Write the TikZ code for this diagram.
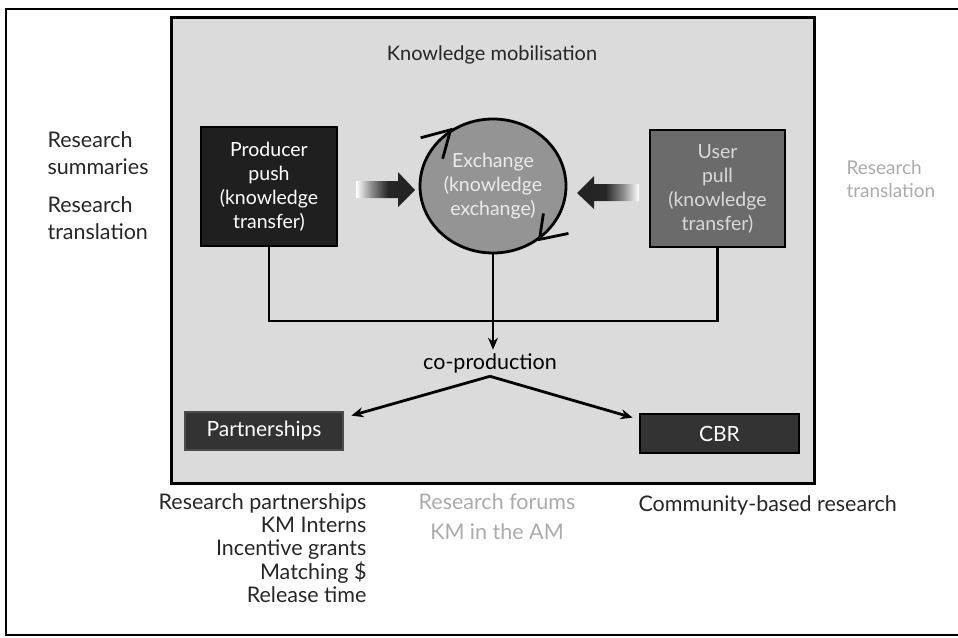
\documentclass[tikz,border=0pt]{standalone}
\usepackage{fontspec}
\setmainfont{Lato}
\usetikzlibrary{arrows.meta,shapes.geometric}
\newcommand{\fsz}[2]{\fontsize{#1}{#2}\selectfont}
\pgfdeclarehorizontalshading{fadetodark}{100bp}{color(0bp)=(white); color(25bp)=(white); color(38bp)=(black!45); color(52bp)=(black!85); color(100bp)=(black!88)}
\pgfdeclarehorizontalshading{darktofade}{100bp}{color(0bp)=(black!88); color(48bp)=(black!85); color(62bp)=(black!45); color(75bp)=(white); color(100bp)=(white)}
\begin{document}
\begin{tikzpicture}[x=1pt,y=-1pt,
  box/.style={draw=black, line width=2.8pt, inner sep=0pt, align=center},
  conn/.style={line width=2.8pt, draw=black},
  arr/.style={conn, -{Stealth[length=12pt,width=10pt]}},
  darktext/.style={text=black!85},
  lighttext/.style={text=black!33}
]
\useasboundingbox (0,0) rectangle (958,637);
% outer frame (open on the right)
\draw[line width=2.2pt] (958,9) -- (6,9) -- (6,635) -- (958,635);
% panel
\node[draw=black, line width=3pt, fill=black!14, minimum width=643pt, minimum height=466pt, inner sep=0pt] (panel) at (493,250) {};
\node[darktext, font=\fsz{20}{23}] (title) at (492,55) {Knowledge mobilisation};
% producer
\node[box, fill=black!88, text=white, minimum width=136pt, minimum height=119pt, font=\fsz{19.5}{24}] (prod) at (269,186.5) {Producer\\push\\(knowledge\\transfer)};
% exchange
\node[ellipse, draw=black, line width=2.8pt, fill=black!42, text=white!92!black, minimum width=146pt, minimum height=134pt, inner sep=0pt, align=center, font=\fsz{19.5}{24}] (ex) at (493,186) {Exchange\\(knowledge\\exchange)};
% user
\node[box, fill=black!58, text=white!85!black, minimum width=135pt, minimum height=117pt, font=\fsz{19.5}{24}] (user) at (717.5,188.5) {User\\pull\\(knowledge\\transfer)};
% circular arrowheads
\draw[conn] (ex.127) ++(-30,8) -- (ex.127) -- ++(-8,29);
\draw[conn] (ex.311) ++(29,-6) -- (ex.311) -- ++(4,-26);
% gradient arrows
\shade[shading=fadetodark] (356,181) -- (398,181) -- (398,172) -- (415,190) -- (398,207) -- (398,198) -- (356,198) -- cycle;
\shade[shading=darktofade] (639,184) -- (594,184) -- (594,176) -- (577,193) -- (594,209) -- (594,201) -- (639,201) -- cycle;
% side labels
\node[darktext, anchor=west, align=left, font=\fsz{21.5}{27}] (ls) at (44,153) {Research\\summaries};
\node[darktext, anchor=west, align=left, font=\fsz{21.5}{27}] (lt) at (44,218) {Research\\translation};
\node[lighttext, anchor=west, align=left, font=\fsz{19}{23}] (rt) at (843,179) {Research\\translation};
% connectors
\coordinate (junc) at (493,321);
\draw[conn] (prod.south) |- (junc) -| (user.south);
\node[text=black, font=\fsz{21.5}{23}] (coprod) at (490,363) {co-production};
\draw[arr] (ex.south) -- (ex.south |- coprod.north);
% lower boxes
\node[box, draw=black!70, fill=black!80, text=white, minimum width=158pt, minimum height=38pt, font=\fsz{21}{23}] (partn) at (264,431) {Partnerships};
\node[box, draw=black, fill=black!80, text=white, minimum width=159pt, minimum height=39pt, font=\fsz{21}{23}] (cbr) at (719.5,433.5) {CBR};
\draw[arr] (coprod.south) -- ([xshift=7pt,yshift=-5pt]partn.north east);
\draw[arr] (coprod.south) -- ([xshift=-6pt,yshift=-5pt]cbr.north west);
% bottom labels
\node[darktext, anchor=north east, align=right, font=\fsz{21.5}{23.3}] (bl) at (370,490) {Research partnerships\\KM Interns\\Incentive grants\\Matching \$\\Release time};
\node[lighttext, align=center, font=\fsz{21.5}{30}] (bm) at (497,517) {Research forums\\KM in the AM};
\node[darktext, anchor=west, font=\fsz{21.5}{23}] (br) at (635,505) {Community-based research};
\end{tikzpicture}
\end{document}
